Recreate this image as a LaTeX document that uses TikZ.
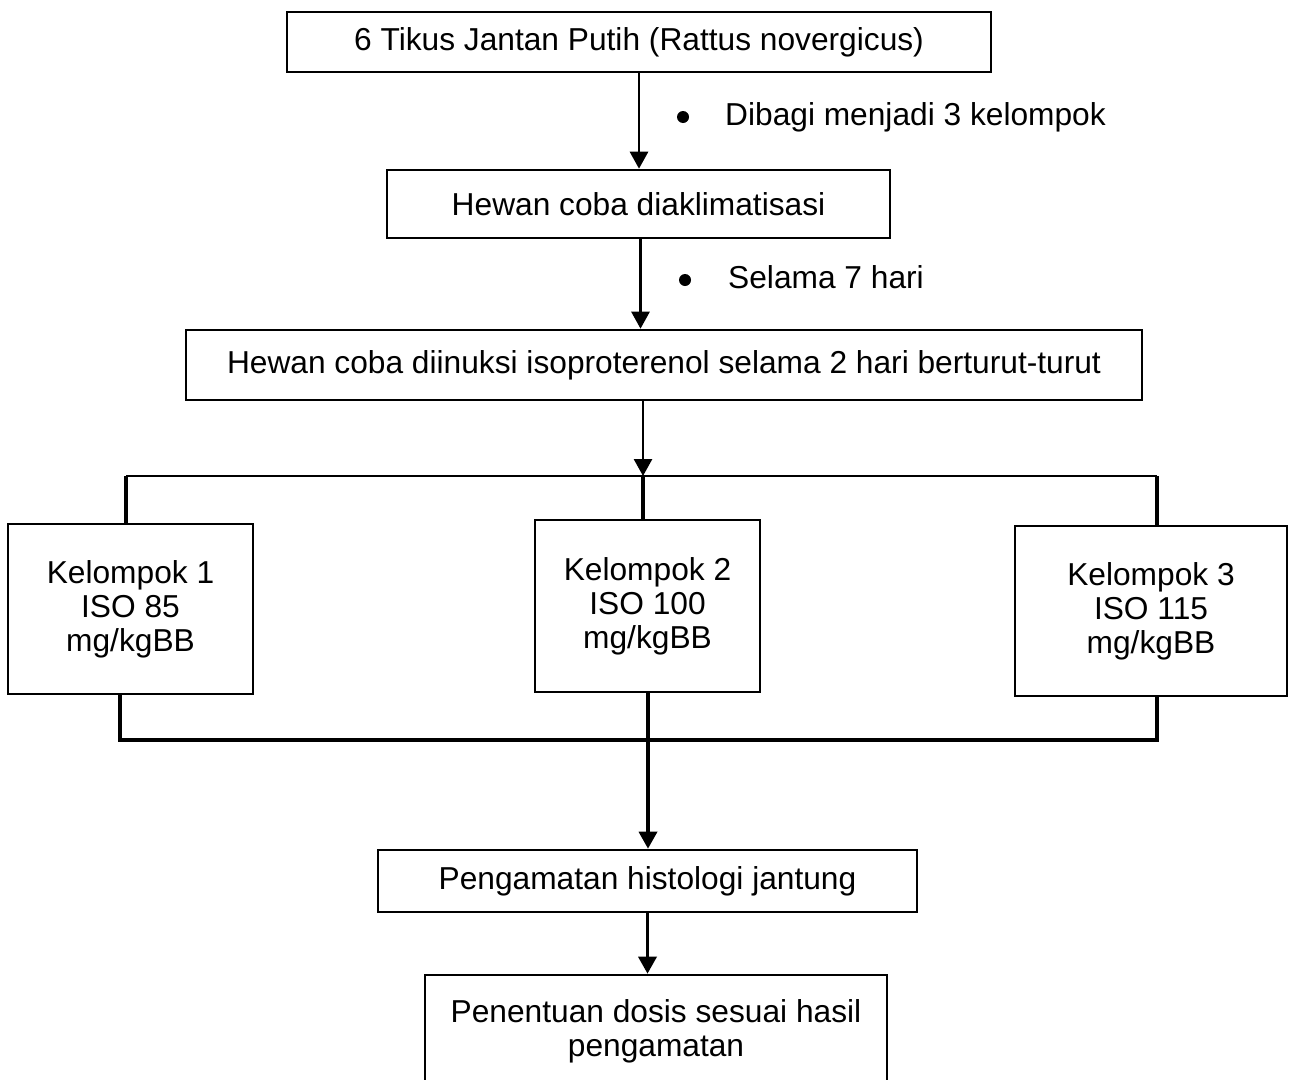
\documentclass[tikz,border=0pt]{standalone}
\usepackage{fontspec}
\setmainfont{Liberation Sans}
\usetikzlibrary{arrows.meta}
\begin{document}
\begin{tikzpicture}[x=1pt,y=-1pt,
  box/.style={draw,line width=2.6pt,inner sep=0pt,align=center,
    font=\fontsize{31.7}{34}\selectfont},
  lab/.style={inner sep=0pt,font=\fontsize{31.7}{34}\selectfont},
  dot/.style={circle,fill,inner sep=0pt,minimum size=12pt},
  arr/.style={line width=2.8pt,-{Triangle[width=18pt,length=17pt]}},
  thinline/.style={line width=1.3pt},
  thickline/.style={line width=4pt},
]
\useasboundingbox (0,0) rectangle (1289,1079);
% boxes
\node[box,minimum width=704,minimum height=60] (b1) at (639,42) {6 Tikus Jantan Putih (Rattus novergicus)};
\node[box,minimum width=503,minimum height=68] (b2) at (638.5,204) {Hewan coba diaklimatisasi};
\node[box,minimum width=956,minimum height=70] (b3) at (664,365) {Hewan coba diinuksi isoproterenol selama 2 hari berturut-turut};
\node[box,minimum width=245,minimum height=170] (k1) at (130.5,609) {Kelompok 1\\ISO 85\\mg/kgBB};
\node[box,minimum width=225,minimum height=172] (k2) at (647.5,606) {Kelompok 2\\ISO 100\\mg/kgBB};
\node[box,minimum width=272,minimum height=170] (k3) at (1151,611) {Kelompok 3\\ISO 115\\mg/kgBB};
\node[box,minimum width=539,minimum height=62] (p1) at (647.5,881) {Pengamatan histologi jantung};
\node[box,minimum width=462,minimum height=112] (p2) at (656,1031) {Penentuan dosis sesuai hasil\\pengamatan};
% labels
\node[dot] (d1) at (683,117) {};
\node[lab,anchor=base west] (l1) at (725,125) {Dibagi menjadi 3 kelompok};
\node[dot] (d2) at (685,280) {};
\node[lab,anchor=base west] (l2) at (728,288) {Selama 7 hari};
% junction coordinates
\coordinate (jt) at (643,476);
\coordinate (jl) at (126,476);
\coordinate (jr) at (1157,476);
\coordinate (bl) at (120,740);
\coordinate (bm) at (648,740);
\coordinate (br) at (1157,740);
% connectors
\draw[arr] (b1.south) -- (b1.south |- b2.north);
\draw[arr] ([xshift=2pt]b2.south) -- ([xshift=2pt]b2.south |- b3.north);
\draw[arr] (b3.south -| jt) -- (jt);
\draw[thinline] (jl) -- (jr);
\draw[thickline] (jl) -- (jl |- k1.north);
\draw[thickline] (jt) -- (jt |- k2.north);
\draw[thickline] (jr) -- (jr |- k3.north);
\draw[thickline] (k1.south -| bl) -- (bl) -- (br) -- (k3.south -| br);
\draw[arr,line width=3.5pt] (k2.south -| bm) -- (bm |- p1.north);
\draw[arr,line width=3.5pt] (p1.south) -- (p1.south |- p2.north);
\end{tikzpicture}
\end{document}
